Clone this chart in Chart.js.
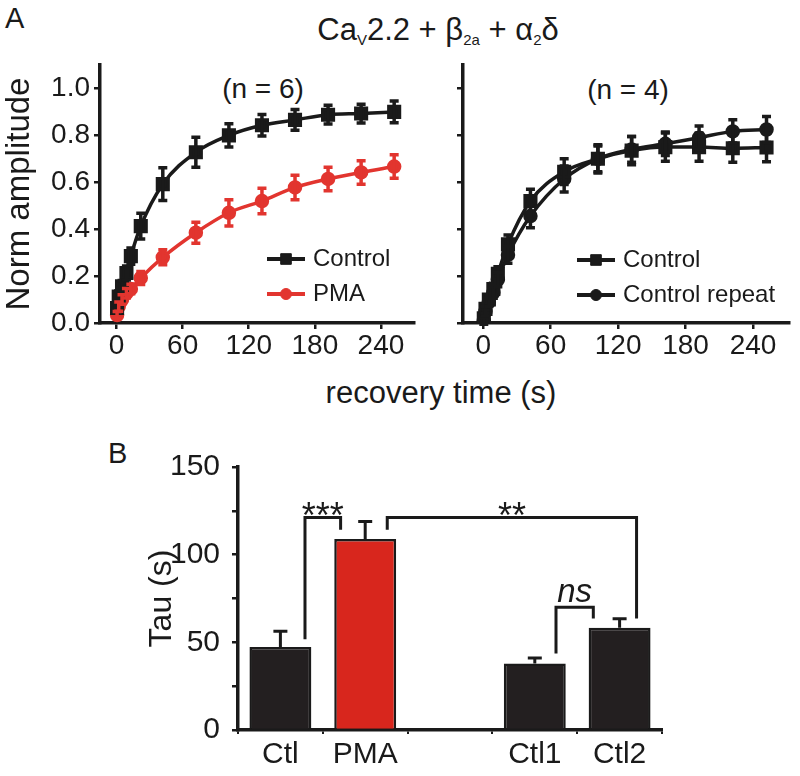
<!DOCTYPE html>
<html>
<head>
<meta charset="utf-8">
<script src="https://cdn.jsdelivr.net/npm/chart.js@4.4.0/dist/chart.umd.min.js"></script>
<style>
body { margin: 0; background: #fff; width: 800px; height: 776px; position: relative; overflow: hidden;
       font-family: "Liberation Sans", Arial, sans-serif; color: #1a1a1a; }
canvas { position: absolute; }
.t { position: absolute; white-space: nowrap; line-height: 1; }
.t sub { font-size: 15px; vertical-align: -5px; line-height: 0; }
</style>
</head>
<body>
<div class="t" style="left:5px;top:4px;font-size:29px">A</div>
<div class="t" style="left:438px;top:14px;font-size:31px;transform:translateX(-50%)">Ca<sub>V</sub>2.2 + β<sub>2a</sub> + α<sub>2</sub>δ</div>
<div class="t" style="left:263px;top:75px;font-size:28px;transform:translateX(-50%)">(n = 6)</div>
<div class="t" style="left:628px;top:76px;font-size:28px;transform:translateX(-50%)">(n = 4)</div>
<div class="t" style="left:441px;top:377px;font-size:31px;transform:translateX(-50%)">recovery time (s)</div>
<div class="t" style="left:108px;top:439px;font-size:29px">B</div>

<canvas id="chartLeft" width="425" height="365" style="left:0;top:0"></canvas>
<canvas id="chartRight" width="360" height="365" style="left:440px;top:0"></canvas>
<canvas id="chartTau" width="800" height="346" style="left:0;top:430px"></canvas>

<script>
// panel A: recovery time (s)
var times = [0.5, 2, 5, 9, 13, 22, 42, 72, 102, 132, 162, 192, 222, 252];

var ctlA    = [0.064, 0.113, 0.156, 0.213, 0.285, 0.413, 0.592, 0.728, 0.80, 0.843, 0.866, 0.888, 0.893, 0.90];
var ctlAErr = [0.02, 0.025, 0.025, 0.03, 0.035, 0.055, 0.07, 0.064, 0.05, 0.046, 0.044, 0.04, 0.04, 0.046];
var pmaA    = [0.034, 0.07, 0.10, 0.127, 0.145, 0.192, 0.28, 0.385, 0.47, 0.52, 0.578, 0.614, 0.642, 0.667];
var pmaAErr = [0.015, 0.02, 0.02, 0.02, 0.02, 0.028, 0.032, 0.045, 0.056, 0.054, 0.052, 0.05, 0.05, 0.05];

var ctlB    = [0.02, 0.06, 0.10, 0.145, 0.21, 0.335, 0.52, 0.645, 0.70, 0.735, 0.75, 0.75, 0.745, 0.748];
var ctlBErr = [0.015, 0.02, 0.02, 0.025, 0.03, 0.04, 0.05, 0.055, 0.06, 0.06, 0.06, 0.06, 0.06, 0.06];
var repB    = [0.01, 0.05, 0.09, 0.13, 0.185, 0.29, 0.456, 0.614, 0.70, 0.74, 0.764, 0.79, 0.817, 0.825];
var repBErr = [0.015, 0.02, 0.02, 0.025, 0.03, 0.035, 0.05, 0.055, 0.055, 0.055, 0.05, 0.05, 0.05, 0.055];

var xTicks = [0, 30, 60, 90, 120, 150, 180, 210, 240];
var yTicks = [0, 0.1, 0.2, 0.3, 0.4, 0.5, 0.6, 0.7, 0.8, 0.9, 1.0];

// panel B: tau (s)
var tauLabels = ['Ctl', 'PMA', '', 'Ctl1', 'Ctl2'];
var tauValues = [47.3, 108.9, null, 37.9, 58.3];
var tauErr    = [9, 10, null, 3.2, 5.2];
var tauTicks  = [0, 25, 50, 75, 100, 125, 150];

// significance brackets: category index + offset, heights in tau units
var brackets = [
    { a: 0, da: 0.29, b: 1, db: -0.29, top: 121.2, ya: 51.7, yb: 114.2, text: '***' },
    { a: 1, da: 0.26, b: 4, db: 0.2, top: 121.2, ya: 114.2, yb: 63.6, text: '**' },
    { a: 3, da: 0.25, b: 4, db: -0.31, top: 70, ya: 43.7, yb: 63.6, text: 'ns' }
];

var INK = '#1a1a1a';
var RED = '#e2352f';
Chart.defaults.font.family = '"Liberation Sans", Arial, sans-serif';
Chart.defaults.color = INK;

function pts(vals) {
    return times.map(function (t, i) { return { x: t, y: vals[i] }; });
}

var errBars = {
    id: 'errBars',
    afterDatasetsDraw: function (chart) {
        var ctx = chart.ctx;
        var yS = chart.scales.y;
        chart.data.datasets.forEach(function (ds, i) {
            if (!ds.err) return;
            var meta = chart.getDatasetMeta(i);
            ctx.save();
            ctx.strokeStyle = ds.errColor || ds.borderColor;
            ctx.lineWidth = ds.errWidth || 3.5;
            meta.data.forEach(function (el, j) {
                var raw = ds.data[j];
                if (raw == null || ds.err[j] == null) return;
                var v = typeof raw === 'object' ? raw.y : raw;
                var top = yS.getPixelForValue(v + ds.err[j]);
                var bot = ds.errUp ? el.y : yS.getPixelForValue(v - ds.err[j]);
                var cap = ds.errCap || 4.5;
                ctx.beginPath();
                ctx.moveTo(el.x, top); ctx.lineTo(el.x, bot);
                ctx.moveTo(el.x - cap, top); ctx.lineTo(el.x + cap, top);
                if (!ds.errUp) { ctx.moveTo(el.x - cap, bot); ctx.lineTo(el.x + cap, bot); }
                ctx.stroke();
            });
            ctx.restore();
        });
    }
};

var legendMarks = {
    id: 'legendMarks',
    afterDraw: function (chart, args, o) {
        if (!o.items) return;
        var ctx = chart.ctx;
        o.items.forEach(function (it) {
            var ds = chart.data.datasets[it.ds];
            ctx.save();
            ctx.strokeStyle = ds.borderColor;
            ctx.fillStyle = ds.pointBackgroundColor;
            ctx.lineWidth = 4;
            ctx.beginPath();
            ctx.moveTo(it.x, it.y); ctx.lineTo(it.x + 38, it.y);
            ctx.stroke();
            ctx.lineWidth = 1;
            Chart.helpers.drawPoint(ctx, { pointStyle: ds.pointStyle, radius: ds.pointRadius, borderWidth: 1 }, it.x + 19, it.y);
            ctx.fillStyle = INK;
            ctx.font = '24px "Liberation Sans", Arial, sans-serif';
            ctx.textBaseline = 'middle';
            ctx.fillText(ds.label, it.x + 46, it.y);
            ctx.restore();
        });
    }
};

var sigBrackets = {
    id: 'sigBrackets',
    afterDatasetsDraw: function (chart) {
        var ctx = chart.ctx;
        var xS = chart.scales.x, yS = chart.scales.y;
        var cw = xS.getPixelForValue(1) - xS.getPixelForValue(0);
        ctx.save();
        ctx.strokeStyle = INK;
        ctx.fillStyle = INK;
        ctx.lineWidth = 3;
        brackets.forEach(function (b) {
            var xa = xS.getPixelForValue(b.a) + b.da * cw;
            var xb = xS.getPixelForValue(b.b) + b.db * cw;
            var yt = yS.getPixelForValue(b.top);
            ctx.beginPath();
            ctx.moveTo(xa, yS.getPixelForValue(b.ya));
            ctx.lineTo(xa, yt);
            ctx.lineTo(xb, yt);
            ctx.lineTo(xb, yS.getPixelForValue(b.yb));
            ctx.stroke();
            ctx.textAlign = 'center';
            ctx.textBaseline = 'alphabetic';
            if (b.text === 'ns') {
                ctx.font = 'italic 33px "Liberation Sans", Arial, sans-serif';
                ctx.fillText(b.text, (xa + xb) / 2, yt - 5);
            } else {
                ctx.font = '36px "Liberation Sans", Arial, sans-serif';
                ctx.fillText(b.text, (xa + xb) / 2, yt + 11);
            }
        });
        ctx.restore();
    }
};

function lineSet(label, vals, err, color, style, radius) {
    return {
        label: label,
        data: pts(vals),
        err: err,
        borderColor: color,
        backgroundColor: color,
        pointBackgroundColor: color,
        pointBorderColor: color,
        pointStyle: style,
        pointRadius: radius,
        borderWidth: 3.5,
        cubicInterpolationMode: 'monotone'
    };
}

function scatterOptions(yWidth, padRight, showYLabels, legendItems) {
    return {
        responsive: false,
        animation: false,
        devicePixelRatio: 1,
        layout: { padding: { top: 65, right: padRight, left: 0, bottom: 0 } },
        plugins: { legend: { display: false }, tooltip: { enabled: false }, legendMarks: { items: legendItems } },
        scales: {
            x: {
                type: 'linear', min: -15, max: 270,
                afterBuildTicks: function (s) { s.ticks = xTicks.map(function (v) { return { value: v }; }); },
                afterFit: function (s) { s.height = 42; },
                border: { color: INK, width: 3.5 },
                grid: { drawOnChartArea: false, color: INK, tickLength: 6, lineWidth: 2.5 },
                ticks: {
                    padding: 0, font: { size: 28 }, maxRotation: 0,
                    callback: function (v) { return v % 60 === 0 ? String(v) : ''; }
                }
            },
            y: {
                min: 0, max: 1.1,
                afterBuildTicks: function (s) { s.ticks = yTicks.map(function (v) { return { value: v }; }); },
                afterFit: function (s) { s.width = yWidth; },
                border: { color: INK, width: 3.5 },
                grid: { drawOnChartArea: false, color: INK, tickLength: 6, lineWidth: 2.5 },
                title: { display: showYLabels, text: 'Norm amplitude', font: { size: 33 }, padding: { top: 0, bottom: 0 } },
                ticks: {
                    padding: 4, font: { size: 28 },
                    callback: function (v) {
                        if (!showYLabels) return '';
                        return Math.round(v * 10) % 2 === 0 ? v.toFixed(1) : '';
                    }
                }
            }
        }
    };
}

new Chart(document.getElementById('chartLeft').getContext('2d'), {
    type: 'line',
    data: {
        datasets: [
            lineSet('Control', ctlA, ctlAErr, INK, 'rect', 7.5),
            lineSet('PMA', pmaA, pmaAErr, RED, 'circle', 5.5)
        ]
    },
    options: scatterOptions(100, 10, true, [{ ds: 0, x: 267, y: 259 }, { ds: 1, x: 267, y: 294 }]),
    plugins: [errBars, legendMarks]
});

var xOptsR = scatterOptions(23, 9, false, [{ ds: 0, x: 137, y: 260 }, { ds: 1, x: 137, y: 295 }]);
xOptsR.scales.x.min = -18;
xOptsR.scales.x.max = 272;

new Chart(document.getElementById('chartRight').getContext('2d'), {
    type: 'line',
    data: {
        datasets: [
            lineSet('Control', ctlB, ctlBErr, INK, 'rect', 7.5),
            lineSet('Control repeat', repB, repBErr, INK, 'circle', 5.5)
        ]
    },
    options: xOptsR,
    plugins: [errBars, legendMarks]
});

new Chart(document.getElementById('chartTau').getContext('2d'), {
    type: 'bar',
    data: {
        labels: tauLabels,
        datasets: [{
            label: 'Tau',
            data: tauValues,
            err: tauErr,
            errUp: true,
            errCap: 7,
            errWidth: 3,
            errColor: INK,
            backgroundColor: ['#231f20', '#d8261d', '#231f20', '#231f20', '#231f20'],
            borderColor: INK,
            borderWidth: 2.5,
            borderSkipped: 'bottom',
            barPercentage: 0.73,
            categoryPercentage: 1
        }]
    },
    options: {
        responsive: false,
        animation: false,
        devicePixelRatio: 1,
        layout: { padding: { top: 37, right: 138, left: 143, bottom: 0 } },
        plugins: { legend: { display: false }, tooltip: { enabled: false } },
        scales: {
            x: {
                afterFit: function (s) { s.height = 46; },
                border: { color: INK, width: 3.5 },
                grid: { drawOnChartArea: false, color: INK, tickLength: 4, lineWidth: 2, offset: true },
                ticks: { padding: 3, font: { size: 30 }, maxRotation: 0, autoSkip: false }
            },
            y: {
                min: 0, max: 150,
                afterBuildTicks: function (s) { s.ticks = tauTicks.map(function (v) { return { value: v }; }); },
                afterFit: function (s) { s.width = 95; },
                border: { color: INK, width: 3.5 },
                grid: { drawOnChartArea: false, color: INK, tickLength: 6, lineWidth: 2.5 },
                title: { display: true, text: 'Tau (s)', font: { size: 32 }, padding: { top: 0, bottom: 0 } },
                ticks: {
                    padding: 12, font: { size: 30 },
                    callback: function (v) { return v % 50 === 0 ? String(v) : ''; }
                }
            }
        }
    },
    plugins: [errBars, sigBrackets]
});
</script>
</body>
</html>
